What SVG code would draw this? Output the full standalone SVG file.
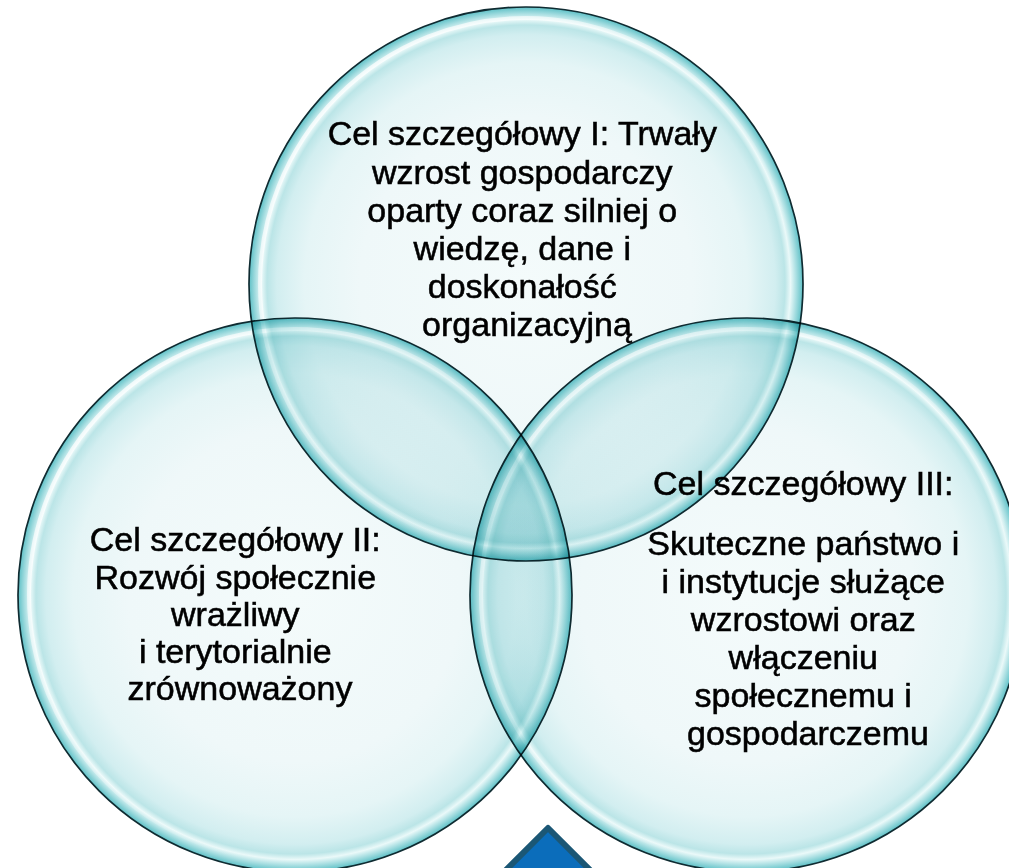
<svg xmlns="http://www.w3.org/2000/svg" width="1009" height="868" viewBox="0 0 1009 868">
  <defs>
    <!-- glassy teal bubble fill: pale core, teal rim with a thin bright ring inside -->
    <radialGradient id="bubble" cx="0.5" cy="0.5" r="0.5">
      <stop offset="0" stop-color="#f4fbfb"/>
      <stop offset="0.6" stop-color="#eff8f9"/>
      <stop offset="0.8" stop-color="#e5f5f6"/>
      <stop offset="0.9" stop-color="#d2eef0"/>
      <stop offset="0.935" stop-color="#bbe5e7"/>
      <stop offset="0.955" stop-color="#eaf9f9"/>
      <stop offset="0.975" stop-color="#ace0e3"/>
      <stop offset="1" stop-color="#5dc0c6"/>
    </radialGradient>
    <!-- specular highlight on the upper-left side of each bubble -->
    <linearGradient id="shine" x1="0" y1="0" x2="1" y2="1">
      <stop offset="0" stop-color="#ffffff" stop-opacity="0.9"/>
      <stop offset="0.45" stop-color="#ffffff" stop-opacity="0.35"/>
      <stop offset="0.7" stop-color="#ffffff" stop-opacity="0"/>
    </linearGradient>
  </defs>
  <style>
    .bubble { mix-blend-mode: multiply; }
    .disc { fill: url(#bubble); stroke: #0f2b31; stroke-width: 1.7; }
    .ring { fill: none; stroke: url(#shine); stroke-width: 4; }
    .label { font-family: "Liberation Sans", Arial, sans-serif; font-size: 34px; fill: #000000; stroke: #000000; stroke-width: 0.55; text-anchor: middle; }
    .marker { fill: #0b6dbb; stroke: #1b5775; stroke-width: 6; stroke-linejoin: round; }
  </style>

  <rect width="1009" height="868" fill="#ffffff"/>

  <!-- Goal II: left circle -->
  <g id="goal-2">
    <g class="bubble">
      <circle class="disc" cx="295" cy="595" r="277"/>
      <circle class="ring" cx="295" cy="595" r="266"/>
    </g>
    <text class="label">
      <tspan x="240" y="551">Cel szczegółowy II:</tspan>
      <tspan x="240" y="588.5">Rozwój społecznie</tspan>
      <tspan x="240" y="626">wrażliwy</tspan>
      <tspan x="240" y="663">i terytorialnie</tspan>
      <tspan x="240" y="700">zrównoważony</tspan>
    </text>
  </g>

  <!-- Goal III: right circle -->
  <g id="goal-3">
    <g class="bubble">
      <circle class="disc" cx="747" cy="595" r="277"/>
      <circle class="ring" cx="747" cy="595" r="266"/>
    </g>
    <text class="label">
      <tspan x="808" y="495">Cel szczegółowy III:</tspan>
      <tspan x="808" y="555">Skuteczne państwo i</tspan>
      <tspan x="808" y="593">i instytucje służące</tspan>
      <tspan x="808" y="631">wzrostowi oraz</tspan>
      <tspan x="808" y="669">włączeniu</tspan>
      <tspan x="808" y="707">społecznemu i</tspan>
      <tspan x="808" y="745">gospodarczemu</tspan>
    </text>
  </g>

  <!-- Goal I: top circle -->
  <g id="goal-1">
    <g class="bubble">
      <circle class="disc" cx="526" cy="284" r="277"/>
      <circle class="ring" cx="526" cy="284" r="266"/>
    </g>
    <text class="label">
      <tspan x="527" y="145">Cel szczegółowy I: Trwały</tspan>
      <tspan x="527" y="183.5">wzrost gospodarczy</tspan>
      <tspan x="527" y="222">oparty coraz silniej o</tspan>
      <tspan x="527" y="260">wiedzę, dane i</tspan>
      <tspan x="527" y="298">doskonałość</tspan>
      <tspan x="527" y="336">organizacyjną</tspan>
    </text>
  </g>

  <!-- blue diamond marker at the bottom edge -->
  <g id="marker">
    <polygon class="marker" points="548,828 610,890 548,952 486,890"/>
  </g>

  <!-- no connectors in this diagram -->
  <g id="connectors"/>
</svg>
